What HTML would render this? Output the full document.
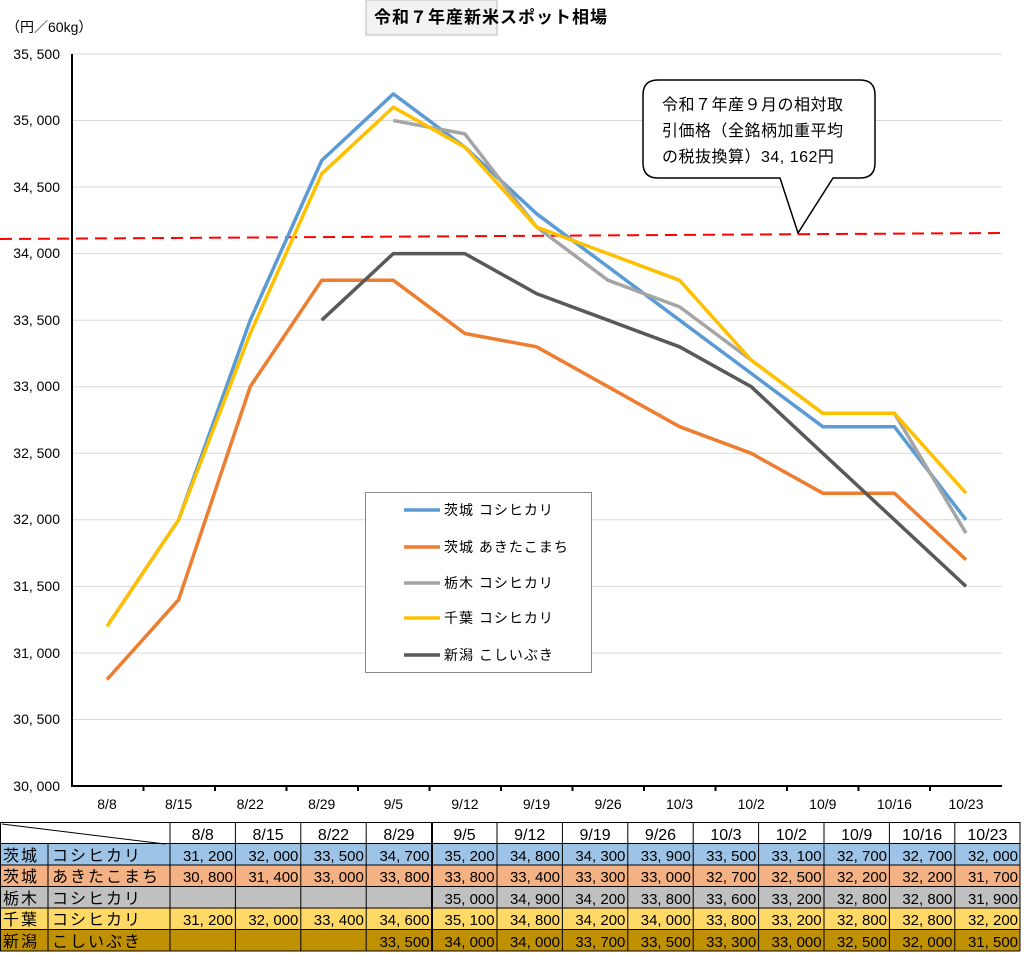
<!DOCTYPE html>
<html><head><meta charset="utf-8"><style>
body{margin:0;background:#fff;}
svg{display:block;font-family:"Liberation Sans","Noto Sans CJK JP",sans-serif;}
</style></head><body>
<svg width="1024" height="953" viewBox="0 0 1024 953" xmlns="http://www.w3.org/2000/svg">
<rect width="1024" height="953" fill="#fff"/>
<rect x="366" y="0" width="131" height="35" fill="#f2f2f2" stroke="#bbb"/>
<text x="374" y="23" font-size="17" font-weight="bold" fill="#000" letter-spacing="1">令和７年産新米スポット相場</text>
<text x="6" y="32" font-size="14" fill="#000">（円／60kg）</text>
<g stroke="#d9d9d9" stroke-width="1">
<line x1="72" y1="54" x2="1002" y2="54"/><line x1="72" y1="120.5" x2="1002" y2="120.5"/>
<line x1="72" y1="187" x2="1002" y2="187"/><line x1="72" y1="253.6" x2="1002" y2="253.6"/>
<line x1="72" y1="320.2" x2="1002" y2="320.2"/><line x1="72" y1="386.7" x2="1002" y2="386.7"/>
<line x1="72" y1="453.3" x2="1002" y2="453.3"/><line x1="72" y1="519.8" x2="1002" y2="519.8"/>
<line x1="72" y1="586.4" x2="1002" y2="586.4"/><line x1="72" y1="653" x2="1002" y2="653"/>
<line x1="72" y1="719.5" x2="1002" y2="719.5"/>
</g>
<g font-size="14" fill="#000" text-anchor="end">
<text x="60" y="59">35, 500</text><text x="60" y="125">35, 000</text><text x="60" y="192">34, 500</text>
<text x="60" y="258">34, 000</text><text x="60" y="325">33, 500</text><text x="60" y="391">33, 000</text>
<text x="60" y="458">32, 500</text><text x="60" y="524">32, 000</text><text x="60" y="591">31, 500</text>
<text x="60" y="658">31, 000</text><text x="60" y="724">30, 500</text><text x="60" y="791">30, 000</text>
</g>
<line x1="72" y1="54" x2="72" y2="787" stroke="#000" stroke-width="2"/>
<line x1="71" y1="786" x2="1002" y2="786" stroke="#000" stroke-width="2"/>
<g stroke="#000" stroke-width="2">
<line x1="143.5" y1="786" x2="143.5" y2="791"/><line x1="215" y1="786" x2="215" y2="791"/><line x1="286.5" y1="786" x2="286.5" y2="791"/>
<line x1="358" y1="786" x2="358" y2="791"/><line x1="429.5" y1="786" x2="429.5" y2="791"/><line x1="501" y1="786" x2="501" y2="791"/>
<line x1="572.5" y1="786" x2="572.5" y2="791"/><line x1="644" y1="786" x2="644" y2="791"/><line x1="715.5" y1="786" x2="715.5" y2="791"/>
<line x1="787" y1="786" x2="787" y2="791"/><line x1="858.5" y1="786" x2="858.5" y2="791"/><line x1="930" y1="786" x2="930" y2="791"/>
</g>
<g font-size="14" fill="#000" text-anchor="middle">
<text x="107" y="809">8/8</text><text x="178.6" y="809">8/15</text><text x="250.2" y="809">8/22</text>
<text x="321.7" y="809">8/29</text><text x="393.3" y="809">9/5</text><text x="464.9" y="809">9/12</text>
<text x="536.5" y="809">9/19</text><text x="608.1" y="809">9/26</text><text x="679.6" y="809">10/3</text>
<text x="751.2" y="809">10/2</text><text x="822.8" y="809">10/9</text><text x="894.4" y="809">10/16</text>
<text x="966" y="809">10/23</text>
</g>
<line x1="0" y1="239" x2="1003" y2="233" stroke="#ff0000" stroke-width="2" stroke-dasharray="12,7"/>
<g fill="none" stroke-width="3.5" stroke-linejoin="round">
<polyline stroke="#ed7d31" points="107,679.5 178.6,599.7 250.2,386.7 321.7,280.3 393.3,280.3 464.9,333.5 536.5,346.8 608.1,386.7 679.6,426.7 751.2,453.3 822.8,493.2 894.4,493.2 966,559.7"/>
<polyline stroke="#595959" points="321.7,320.2 393.3,253.6 464.9,253.6 536.5,293.6 608.1,320.2 679.6,346.8 751.2,386.7 822.8,453.3 894.4,519.8 966,586.4"/>
<polyline stroke="#5b9bd5" points="107,626.3 178.6,519.8 250.2,320.2 321.7,160.5 393.3,93.9 464.9,147.2 536.5,213.7 608.1,266.9 679.6,320.2 751.2,373.4 822.8,426.7 894.4,426.7 966,519.8"/>
<polyline stroke="#a5a5a5" points="393.3,120.5 464.9,133.9 536.5,227 608.1,280.3 679.6,306.9 751.2,360.1 822.8,413.3 894.4,413.3 966,533.1"/>
<polyline stroke="#ffc000" points="107,626.3 178.6,519.8 250.2,333.5 321.7,173.8 393.3,107.2 464.9,147.2 536.5,227 608.1,253.6 679.6,280.3 751.2,360.1 822.8,413.3 894.4,413.3 966,493.2"/>
</g>
<path d="M658,80 H860 Q875,80 875,95 V163 Q875,178 860,178 H833 L798,233 L780,178 H658 Q643,178 643,163 V95 Q643,80 658,80 Z" fill="#fff" stroke="#000" stroke-width="1.5"/>
<g font-size="16" fill="#000" letter-spacing="0.5">
<text x="662" y="110">令和７年産９月の相対取</text>
<text x="662" y="136">引価格（全銘柄加重平均</text>
<text x="662" y="162">の税抜換算）34, 162円</text>
</g>
<rect x="365.5" y="492.5" width="226" height="180" fill="#fff" stroke="#888"/>
<g stroke-width="3.5">
<line x1="404" y1="510" x2="440" y2="510" stroke="#5b9bd5"/>
<line x1="404" y1="547" x2="440" y2="547" stroke="#ed7d31"/>
<line x1="404" y1="583" x2="440" y2="583" stroke="#a5a5a5"/>
<line x1="404" y1="618" x2="440" y2="618" stroke="#ffc000"/>
<line x1="404" y1="655" x2="440" y2="655" stroke="#595959"/>
</g>
<g font-size="14" fill="#000" letter-spacing="1">
<text x="444" y="515">茨城 コシヒカリ</text>
<text x="444" y="552">茨城 あきたこまち</text>
<text x="444" y="588">栃木 コシヒカリ</text>
<text x="444" y="623">千葉 コシヒカリ</text>
<text x="444" y="660">新潟 こしいぶき</text>
</g>
<rect x="170" y="822" width="850" height="21.5" fill="#fff"/>
<rect x="0" y="843.5" width="1020" height="21.5" fill="#9dc3e6"/>
<rect x="0" y="865" width="1020" height="21.5" fill="#f4b183"/>
<rect x="0" y="886.5" width="1020" height="21.5" fill="#c0c0c0"/>
<rect x="0" y="908" width="1020" height="21.5" fill="#ffd966"/>
<rect x="0" y="929.5" width="1020" height="21.5" fill="#bf9000"/>
<g stroke="#000" stroke-width="1">
<line x1="0" y1="822.5" x2="1020" y2="822.5"/><line x1="0" y1="843.5" x2="1020" y2="843.5"/>
<line x1="0" y1="865" x2="1020" y2="865"/><line x1="0" y1="886.5" x2="1020" y2="886.5"/>
<line x1="0" y1="908" x2="1020" y2="908"/><line x1="0" y1="929.5" x2="1020" y2="929.5"/>
<line x1="0" y1="951" x2="1020" y2="951"/>
<line x1="0.5" y1="822" x2="0.5" y2="951"/><line x1="48" y1="843.5" x2="48" y2="951"/>
<line x1="170" y1="822" x2="170" y2="951"/><line x1="235.4" y1="822" x2="235.4" y2="951"/>
<line x1="300.8" y1="822" x2="300.8" y2="951"/><line x1="366.2" y1="822" x2="366.2" y2="951"/>
<line x1="432" y1="822" x2="432" y2="951" stroke-width="2"/><line x1="497" y1="822" x2="497" y2="951"/>
<line x1="562.4" y1="822" x2="562.4" y2="951"/><line x1="627.8" y1="822" x2="627.8" y2="951"/>
<line x1="693.2" y1="822" x2="693.2" y2="951"/><line x1="758.6" y1="822" x2="758.6" y2="951"/>
<line x1="824" y1="822" x2="824" y2="951"/><line x1="889.4" y1="822" x2="889.4" y2="951"/>
<line x1="954.8" y1="822" x2="954.8" y2="951"/><line x1="1020" y1="822" x2="1020" y2="951"/>
<line x1="2" y1="824" x2="165" y2="844"/>
</g>
<g font-size="16" fill="#000" text-anchor="middle">
<text x="202.7" y="840">8/8</text><text x="268.1" y="840">8/15</text><text x="333.5" y="840">8/22</text>
<text x="399" y="840">8/29</text><text x="464.5" y="840">9/5</text><text x="529.7" y="840">9/12</text>
<text x="595.1" y="840">9/19</text><text x="660.5" y="840">9/26</text><text x="725.9" y="840">10/3</text>
<text x="791.3" y="840">10/2</text><text x="856.7" y="840">10/9</text><text x="922.1" y="840">10/16</text>
<text x="987.4" y="840">10/23</text>
</g>
<g font-size="16" fill="#000" letter-spacing="2">
<text x="3" y="861">茨城</text><text x="52" y="861">コシヒカリ</text>
<text x="3" y="882">茨城</text><text x="52" y="882">あきたこまち</text>
<text x="3" y="904">栃木</text><text x="52" y="904">コシヒカリ</text>
<text x="3" y="925">千葉</text><text x="52" y="925">コシヒカリ</text>
<text x="3" y="947">新潟</text><text x="52" y="947">こしいぶき</text>
</g>
<g font-size="15" fill="#000" text-anchor="end">
<text x="233" y="861">31, 200</text><text x="298.4" y="861">32, 000</text><text x="363.8" y="861">33, 500</text><text x="429.5" y="861">34, 700</text><text x="494.6" y="861">35, 200</text><text x="560" y="861">34, 800</text><text x="625.4" y="861">34, 300</text><text x="690.8" y="861">33, 900</text><text x="756.2" y="861">33, 500</text><text x="821.6" y="861">33, 100</text><text x="887" y="861">32, 700</text><text x="952.4" y="861">32, 700</text><text x="1018" y="861">32, 000</text>
<text x="233" y="882">30, 800</text><text x="298.4" y="882">31, 400</text><text x="363.8" y="882">33, 000</text><text x="429.5" y="882">33, 800</text><text x="494.6" y="882">33, 800</text><text x="560" y="882">33, 400</text><text x="625.4" y="882">33, 300</text><text x="690.8" y="882">33, 000</text><text x="756.2" y="882">32, 700</text><text x="821.6" y="882">32, 500</text><text x="887" y="882">32, 200</text><text x="952.4" y="882">32, 200</text><text x="1018" y="882">31, 700</text>
<text x="494.6" y="904">35, 000</text><text x="560" y="904">34, 900</text><text x="625.4" y="904">34, 200</text><text x="690.8" y="904">33, 800</text><text x="756.2" y="904">33, 600</text><text x="821.6" y="904">33, 200</text><text x="887" y="904">32, 800</text><text x="952.4" y="904">32, 800</text><text x="1018" y="904">31, 900</text>
<text x="233" y="925">31, 200</text><text x="298.4" y="925">32, 000</text><text x="363.8" y="925">33, 400</text><text x="429.5" y="925">34, 600</text><text x="494.6" y="925">35, 100</text><text x="560" y="925">34, 800</text><text x="625.4" y="925">34, 200</text><text x="690.8" y="925">34, 000</text><text x="756.2" y="925">33, 800</text><text x="821.6" y="925">33, 200</text><text x="887" y="925">32, 800</text><text x="952.4" y="925">32, 800</text><text x="1018" y="925">32, 200</text>
<text x="429.5" y="947">33, 500</text><text x="494.6" y="947">34, 000</text><text x="560" y="947">34, 000</text><text x="625.4" y="947">33, 700</text><text x="690.8" y="947">33, 500</text><text x="756.2" y="947">33, 300</text><text x="821.6" y="947">33, 000</text><text x="887" y="947">32, 500</text><text x="952.4" y="947">32, 000</text><text x="1018" y="947">31, 500</text>
</g>
</svg>
</body></html>
